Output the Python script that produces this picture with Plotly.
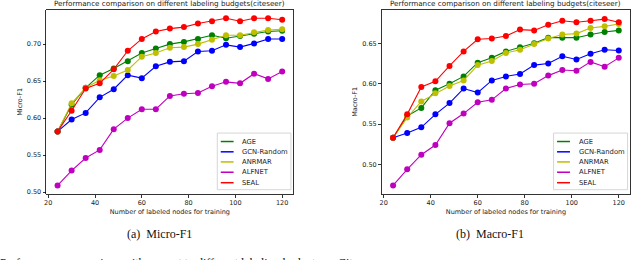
import plotly.graph_objects as go

# ---------------- data ----------------
budgets = [24, 30, 36, 42, 48, 54, 60, 66, 72, 78, 84, 90, 96, 102, 108, 114, 120]
methods = ["AGE", "GCN-Random", "ANRMAR", "ALFNET", "SEAL"]
colors = ["#008000", "#0000ff", "#bfbf00", "#bf00bf", "#ff0000"]

micro_age = [0.582, 0.618, 0.641, 0.658, 0.667, 0.677, 0.688, 0.694, 0.700, 0.703, 0.707, 0.712, 0.708, 0.711, 0.714, 0.717, 0.718]
micro_gcn = [0.582, 0.598, 0.607, 0.628, 0.639, 0.658, 0.654, 0.670, 0.676, 0.677, 0.690, 0.691, 0.699, 0.696, 0.701, 0.707, 0.707]
micro_anrmar = [0.582, 0.620, 0.641, 0.651, 0.657, 0.665, 0.683, 0.688, 0.695, 0.696, 0.700, 0.706, 0.712, 0.712, 0.716, 0.719, 0.720]
micro_alfnet = [0.509, 0.529, 0.546, 0.557, 0.585, 0.600, 0.612, 0.612, 0.630, 0.633, 0.634, 0.643, 0.649, 0.647, 0.660, 0.653, 0.663]
micro_seal = [0.582, 0.610, 0.640, 0.647, 0.666, 0.691, 0.707, 0.717, 0.721, 0.723, 0.728, 0.731, 0.735, 0.731, 0.735, 0.735, 0.733]

macro_age = [0.533, 0.560, 0.570, 0.592, 0.600, 0.609, 0.626, 0.632, 0.640, 0.645, 0.650, 0.657, 0.657, 0.657, 0.661, 0.664, 0.666]
macro_gcn = [0.533, 0.539, 0.546, 0.562, 0.576, 0.594, 0.589, 0.604, 0.609, 0.612, 0.623, 0.625, 0.634, 0.630, 0.637, 0.642, 0.641]
macro_anrmar = [0.533, 0.558, 0.578, 0.588, 0.597, 0.604, 0.623, 0.628, 0.638, 0.642, 0.649, 0.656, 0.661, 0.662, 0.669, 0.671, 0.674]
macro_alfnet = [0.474, 0.494, 0.512, 0.524, 0.551, 0.563, 0.577, 0.580, 0.594, 0.599, 0.600, 0.610, 0.617, 0.616, 0.627, 0.621, 0.632]
macro_seal = [0.533, 0.562, 0.596, 0.603, 0.622, 0.640, 0.655, 0.656, 0.659, 0.667, 0.666, 0.673, 0.678, 0.676, 0.678, 0.680, 0.676]

micro_series = [micro_age, micro_gcn, micro_anrmar, micro_alfnet, micro_seal]
macro_series = [macro_age, macro_gcn, macro_anrmar, macro_alfnet, macro_seal]

x_ticks = [20, 40, 60, 80, 100, 120]
micro_ticks = [0.50, 0.55, 0.60, 0.65, 0.70]
macro_ticks = [0.50, 0.55, 0.60, 0.65]

title_text = "Performance comparison on different labeling budgets(citeseer)"
x_label = "Number of labeled nodes for training"
captions = ["(a)  Micro-F1", "(b)  Macro-F1"]
y_labels = ["Micro-F1", "Macro-F1"]
fig_caption = "Performance comparison with respect to different labeling budgets on Citeseer."

# ---------------- figure ----------------
W, H = 640, 260
fig = go.Figure()

for axi, series in ((1, micro_series), (2, macro_series)):
    xa = "x" if axi == 1 else "x2"
    ya = "y" if axi == 1 else "y2"
    for name, col, vals in zip(methods, colors, series):
        fig.add_trace(go.Scatter(
            x=budgets, y=vals, name=name, mode="lines+markers",
            line=dict(color=col, width=1.1),
            marker=dict(color=col, size=6, symbol="circle"),
            xaxis=xa, yaxis=ya, showlegend=False, hoverinfo="skip",
        ))

FONT = "DejaVu Sans"
tickfont = dict(family=FONT, size=6.5, color="#222")


def px_x(a, b):
    return [a / W, b / W]


def px_y(top, bottom):
    return [(H - bottom) / H, (H - top) / H]


axis_common = dict(
    showline=True, mirror=True, linecolor="#000", linewidth=0.8,
    ticks="outside", ticklen=3, tickwidth=0.8, tickcolor="#000",
    showgrid=False, zeroline=False, tickfont=tickfont,
)

fig.update_layout(
    width=W, height=H,
    margin=dict(l=0, r=0, t=0, b=0),
    paper_bgcolor="white", plot_bgcolor="white",
    showlegend=False, hovermode=False,
    xaxis=dict(domain=px_x(44.5, 292.3), range=[19.2, 124.8], tickvals=x_ticks,
               title=dict(text=x_label, font=dict(family=FONT, size=6.5, color="#222"), standoff=3),
               anchor="y", **axis_common),
    yaxis=dict(domain=px_y(10, 196), range=[0.4977, 0.7463], tickvals=micro_ticks,
               tickformat=".2f",
               title=dict(text=y_labels[0], font=dict(family=FONT, size=6.5, color="#222"), standoff=3),
               anchor="x", **axis_common),
    xaxis2=dict(domain=px_x(381, 630), range=[19.2, 124.8], tickvals=x_ticks,
                title=dict(text=x_label, font=dict(family=FONT, size=6.5, color="#222"), standoff=3),
                anchor="y2", **axis_common),
    yaxis2=dict(domain=px_y(10, 196), range=[0.4637, 0.6914], tickvals=macro_ticks,
                tickformat=".2f",
                title=dict(text=y_labels[1], font=dict(family=FONT, size=6.5, color="#222"), standoff=3),
                anchor="x2", **axis_common),
)

# titles and captions
for i, (xd, cap_x) in enumerate((("x domain", 158), ("x2 domain", 490))):
    fig.add_annotation(text=title_text, xref=xd, x=0.5, yref="paper", y=(H - 4) / H,
                       xanchor="center", yanchor="middle", showarrow=False,
                       font=dict(family=FONT, size=7.2, color="#222"))
    fig.add_annotation(text=captions[i], xref="paper", x=cap_x / W, yref="paper", y=(H - 236.5) / H,
                       xanchor="center", yanchor="middle", showarrow=False,
                       font=dict(family="Liberation Serif", size=12, color="#111"))

fig.add_annotation(text=fig_caption, xref="paper", x=-4 / W, yref="paper", y=(H - 256.5) / H,
                   xanchor="left", yanchor="top", showarrow=False,
                   font=dict(family="Liberation Serif", size=12, color="#111"))

# legends (drawn per subplot, entries built from methods/colors)
row_pos = [0.284, 0.228, 0.173, 0.117, 0.060]
for xd, yd in (("x domain", "y domain"), ("x2 domain", "y2 domain")):
    fig.add_shape(type="rect", xref=xd, yref=yd, x0=0.692, x1=0.99, y0=0.022, y1=0.33,
                  line=dict(color="#cccccc", width=0.8), fillcolor="rgba(255,255,255,0.9)", layer="above")
    for name, col, ry in zip(methods, colors, row_pos):
        fig.add_shape(type="line", xref=xd, yref=yd, x0=0.706, x1=0.758, y0=ry, y1=ry,
                      line=dict(color=col, width=1.5), layer="above")
        fig.add_annotation(text=name, xref=xd, yref=yd, x=0.785, y=ry, xanchor="left", yanchor="middle",
                           showarrow=False, font=dict(family=FONT, size=6.8, color="#222"))

fig.write_html("out.html", config={"displayModeBar": False, "staticPlot": True},
               post_script="document.body.style.margin='0';document.body.style.overflow='hidden';")
